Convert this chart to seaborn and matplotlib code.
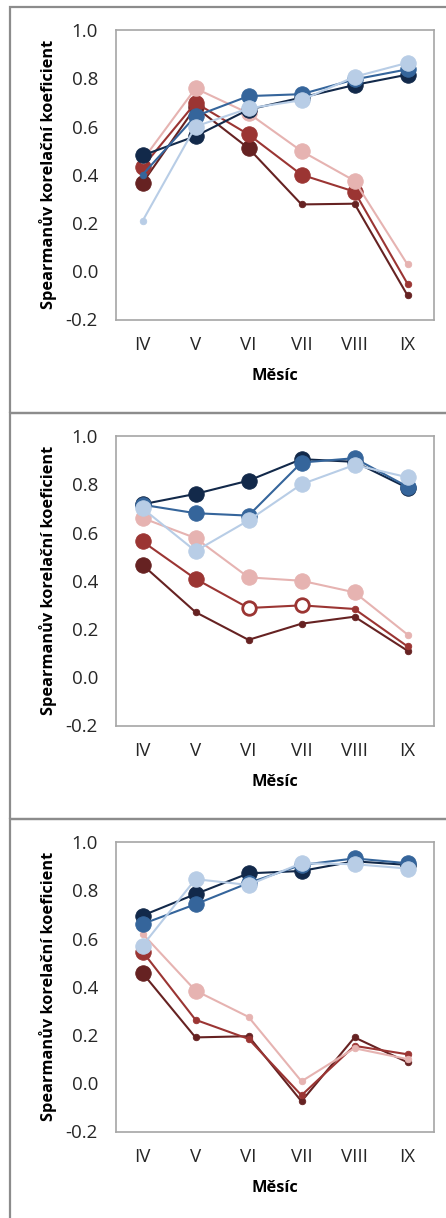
import matplotlib
matplotlib.use("Agg")
import matplotlib.pyplot as plt
import seaborn as sns
import numpy as np
import pandas as pd
from matplotlib.patches import Rectangle

# Months on the category axis
months = ["IV", "V", "VI", "VII", "VIII", "IX"]

# Series order = drawing order (bottom to top)
series = ["maroon", "red", "pink", "navy", "blue", "lightblue"]
colors = {
    "maroon": "#662222",
    "red": "#9b3533",
    "pink": "#e6b3b1",
    "navy": "#12294a",
    "blue": "#35659b",
    "lightblue": "#b8cde6",
}

# Panel 1 coefficients and marker classes (L = large, s = small, o = open)
p1_maroon = [0.366, 0.68, 0.51, 0.277, 0.28, -0.10]
p1_red = [0.432, 0.698, 0.567, 0.40, 0.33, -0.052]
p1_pink = [0.46, 0.758, 0.655, 0.498, 0.375, 0.028]
p1_navy = [0.48, 0.56, 0.67, 0.72, 0.772, 0.815]
p1_blue = [0.40, 0.643, 0.726, 0.734, 0.795, 0.837]
p1_lightblue = [0.208, 0.60, 0.675, 0.709, 0.806, 0.864]
p1_marks = {
    "maroon": "LLLsss", "red": "LLLLLs", "pink": "sLLLLs",
    "navy": "LLLLLL", "blue": "sLLLLL", "lightblue": "sLLLLL",
}

# Panel 2
p2_maroon = [0.466, 0.27, 0.155, 0.222, 0.251, 0.11]
p2_red = [0.563, 0.408, 0.287, 0.298, 0.283, 0.128]
p2_pink = [0.66, 0.577, 0.414, 0.40, 0.352, 0.177]
p2_navy = [0.717, 0.76, 0.815, 0.904, 0.893, 0.785]
p2_blue = [0.715, 0.68, 0.67, 0.89, 0.908, 0.79]
p2_lightblue = [0.70, 0.523, 0.65, 0.80, 0.88, 0.829]
p2_marks = {
    "maroon": "Lsssss", "red": "LLooss", "pink": "LLLLLs",
    "navy": "LLLLLL", "blue": "LLLLLL", "lightblue": "LLLLLL",
}

# Panel 3
p3_maroon = [0.457, 0.19, 0.195, -0.075, 0.19, 0.087]
p3_red = [0.546, 0.263, 0.184, -0.05, 0.155, 0.12]
p3_pink = [0.62, 0.384, 0.275, 0.008, 0.145, 0.10]
p3_navy = [0.695, 0.784, 0.87, 0.88, 0.92, 0.905]
p3_blue = [0.66, 0.742, 0.83, 0.905, 0.932, 0.912]
p3_lightblue = [0.57, 0.846, 0.822, 0.912, 0.908, 0.89]
p3_marks = {
    "maroon": "Lsssss", "red": "Lsssss", "pink": "sLssss",
    "navy": "LLLLLL", "blue": "LLLLLL", "lightblue": "LLLLLL",
}

yticks = [-0.2, 0.0, 0.2, 0.4, 0.6, 0.8, 1.0]
ylabel = "Spearmanův korelační koeficient"
xlabel = "Měsíc"

panels = [
    (dict(maroon=p1_maroon, red=p1_red, pink=p1_pink, navy=p1_navy,
          blue=p1_blue, lightblue=p1_lightblue), p1_marks),
    (dict(maroon=p2_maroon, red=p2_red, pink=p2_pink, navy=p2_navy,
          blue=p2_blue, lightblue=p2_lightblue), p2_marks),
    (dict(maroon=p3_maroon, red=p3_red, pink=p3_pink, navy=p3_navy,
          blue=p3_blue, lightblue=p3_lightblue), p3_marks),
]

sns.set_theme(style="white")
plt.rcParams["font.family"] = ["Open Sans", "DejaVu Sans"]

W, H = 446, 1218
fig = plt.figure(figsize=(W / 100, H / 100), dpi=100)
fig.patch.set_facecolor("white")

def fx(x):
    return x / W

def fy(y):
    return 1 - y / H

# panel frames (top, bottom) in pixels
frames = [(7, 413), (413, 819), (819, 1240)]
for top, bot in frames:
    fig.patches.append(Rectangle((fx(10), fy(bot)), fx(470) - fx(10), fy(top) - fy(bot),
                                 transform=fig.transFigure, fill=False,
                                 edgecolor="#8c8c8c", linewidth=1.6, zorder=0))

axes_tops = [30, 436, 842]
ax_left, ax_right, ax_h = 116, 434, 289.5
spine_c = "#a6a6a6"
size_map = {"L": 125, "s": 22, "o": 95}

for (vals, marks), top in zip(panels, axes_tops):
    ax = fig.add_axes([fx(ax_left), fy(top + ax_h), fx(ax_right) - fx(ax_left), ax_h / H])
    ax.set_facecolor("white")
    xpos = np.arange(len(months))
    z = 3
    for name in series:
        c = colors[name]
        df = pd.DataFrame({"x": xpos, "y": vals[name], "m": list(marks[name])})
        sns.lineplot(data=df, x="x", y="y", color=c, linewidth=1.5, ax=ax,
                     zorder=z, legend=False)
        for cls in ["L", "s", "o"]:
            sub = df[df["m"] == cls]
            if sub.empty:
                continue
            face = "white" if cls == "o" else c
            lw = 2.0 if cls == "o" else 0.6
            sns.scatterplot(data=sub, x="x", y="y", s=size_map[cls], color=face,
                            edgecolor=c, linewidth=lw, ax=ax, zorder=z + 1,
                            legend=False)
        z += 2

    ax.set_xlim(-0.5, 5.5)
    ax.set_ylim(-0.2, 1.0)
    ax.set_yticks(yticks)
    ax.set_yticklabels([f"{t:.1f}" for t in yticks])
    ax.set_xticks(list(xpos) + [5.5])
    ax.set_xticklabels(months + [""])
    for sp in ax.spines.values():
        sp.set_visible(True)
        sp.set_color(spine_c)
        sp.set_linewidth(1.2)
    ax.tick_params(axis="both", which="both", direction="out", length=5,
                   width=1.0, color=spine_c, labelsize=13.5, labelcolor="#262626")
    ax.tick_params(axis="x", pad=7)
    ax.tick_params(axis="y", pad=8)
    ax.grid(False)
    ax.set_ylabel(ylabel, fontsize=11.8, fontweight="bold", color="black")
    ax.yaxis.set_label_coords(-0.214, 0.5)
    ax.set_xlabel(xlabel, fontsize=11.8, fontweight="bold", color="black")
    ax.xaxis.set_label_coords(0.5, -0.195)
    ax.xaxis.label.set_va("center")
    ax.yaxis.label.set_va("center")

fig.savefig("out.png", dpi=100, facecolor="white")
